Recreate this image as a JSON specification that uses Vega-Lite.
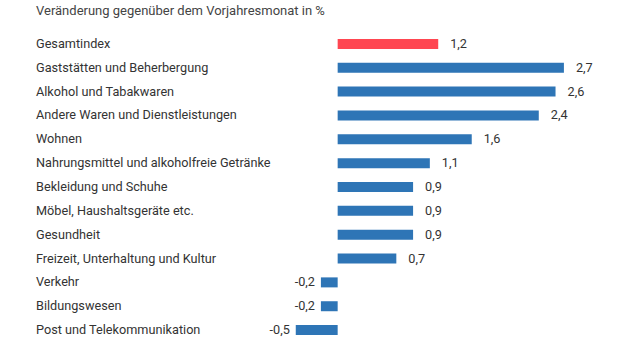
{
  "$schema": "https://vega.github.io/schema/vega-lite/v6.json",
  "width": 620,
  "height": 350,
  "autosize": {"type": "fit", "contains": "padding"},
  "padding": {"left": 36, "right": 10, "top": 5, "bottom": 8},
  "background": "white",
  "config": {
    "view": {"stroke": null},
    "font": "Roboto",
    "text": {"font": "Roboto", "fontSize": 12.7, "color": "#333333"}
  },
  "title": {
    "text": "Veränderung gegenüber dem Vorjahresmonat in %",
    "anchor": "start",
    "frame": "group",
    "fontSize": 13,
    "fontWeight": "normal",
    "color": "#444444",
    "font": "Roboto",
    "offset": 14,
    "dy": 0
  },
  "data": {
    "values": [
      {"kategorie": "Gesamtindex", "wert": 1.2, "label": "1,2", "gesamt": "ja"},
      {"kategorie": "Gaststätten und Beherbergung", "wert": 2.7, "label": "2,7", "gesamt": "nein"},
      {"kategorie": "Alkohol und Tabakwaren", "wert": 2.6, "label": "2,6", "gesamt": "nein"},
      {"kategorie": "Andere Waren und Dienstleistungen", "wert": 2.4, "label": "2,4", "gesamt": "nein"},
      {"kategorie": "Wohnen", "wert": 1.6, "label": "1,6", "gesamt": "nein"},
      {"kategorie": "Nahrungsmittel und alkoholfreie Getränke", "wert": 1.1, "label": "1,1", "gesamt": "nein"},
      {"kategorie": "Bekleidung und Schuhe", "wert": 0.9, "label": "0,9", "gesamt": "nein"},
      {"kategorie": "Möbel, Haushaltsgeräte etc.", "wert": 0.9, "label": "0,9", "gesamt": "nein"},
      {"kategorie": "Gesundheit", "wert": 0.9, "label": "0,9", "gesamt": "nein"},
      {"kategorie": "Freizeit, Unterhaltung und Kultur", "wert": 0.7, "label": "0,7", "gesamt": "nein"},
      {"kategorie": "Verkehr", "wert": -0.2, "label": "-0,2", "gesamt": "nein"},
      {"kategorie": "Bildungswesen", "wert": -0.2, "label": "-0,2", "gesamt": "nein"},
      {"kategorie": "Post und Telekommunikation", "wert": -0.5, "label": "-0,5", "gesamt": "nein"}
    ]
  },
  "encoding": {
    "y": {"field": "kategorie", "type": "nominal", "sort": null, "axis": null,
          "scale": {"paddingInner": 0.58, "paddingOuter": 0.29}}
  },
  "layer": [
    {
      "mark": {"type": "bar", "size": 10},
      "encoding": {
        "x": {"field": "wert", "type": "quantitative", "axis": null,
              "scale": {"domain": [-3.6, 3.25], "nice": false, "zero": false}},
        "color": {"field": "gesamt", "type": "nominal", "legend": null,
                  "scale": {"domain": ["ja", "nein"], "range": ["#ff4651", "#2e75b6"]}}
      }
    },
    {
      "mark": {"type": "rule", "color": "#8c8c8c", "strokeWidth": 1.2},
      "encoding": {"x": {"datum": 0}}
    },
    {
      "transform": [{"filter": "datum.wert >= 0"}],
      "mark": {"type": "text", "align": "left", "dx": 12, "baseline": "middle"},
      "encoding": {"x": {"field": "wert", "type": "quantitative"}, "text": {"field": "label"}}
    },
    {
      "transform": [{"filter": "datum.wert < 0"}],
      "mark": {"type": "text", "align": "right", "dx": -6, "baseline": "middle"},
      "encoding": {"x": {"field": "wert", "type": "quantitative"}, "text": {"field": "label"}}
    },
    {
      "mark": {"type": "text", "align": "left", "baseline": "middle"},
      "encoding": {"x": {"datum": -3.6}, "text": {"field": "kategorie"}}
    }
  ]
}
